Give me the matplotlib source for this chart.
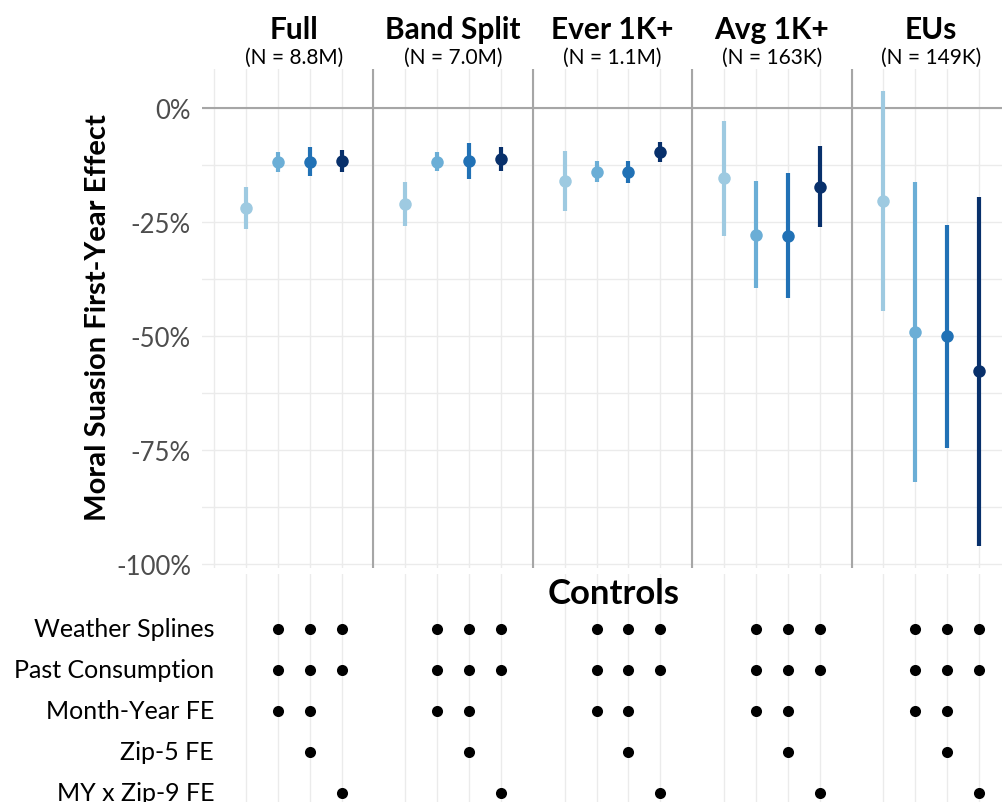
import numpy as np
import matplotlib as mpl
mpl.use('Agg')
import matplotlib.pyplot as plt

plt.rcParams['font.family'] = ['Lato', 'DejaVu Sans']

# estimates in percent, one row per sample, one column per model
panels = ['Full', 'Band Split', 'Ever 1K+', 'Avg 1K+', 'EUs']
sample_sizes = ['8.8M', '7.0M', '1.1M', '163K', '149K']
est = [[-21.9, -11.8, -11.8, -11.6],
       [-21.0, -11.8, -11.6, -11.2],
       [-16.0, -14.0, -14.0, -9.6],
       [-15.4, -27.8, -28.1, -17.3],
       [-20.4, -49.1, -50.0, -57.7]]
ci_hi = [[-17.3, -9.6, -8.6, -9.2],
         [-16.2, -9.6, -7.7, -8.6],
         [-9.4, -11.6, -11.6, -7.5],
         [-2.9, -16.0, -14.3, -8.3],
         [3.7, -16.2, -25.7, -19.5]]
ci_lo = [[-26.5, -14.0, -15.0, -14.0],
         [-25.9, -13.8, -15.6, -13.8],
         [-22.6, -16.2, -16.4, -11.8],
         [-28.1, -39.5, -41.7, -26.1],
         [-44.5, -82.0, -74.6, -96.1]]

controls = ['Weather Splines', 'Past Consumption', 'Month-Year FE', 'Zip-5 FE', 'MY x Zip-9 FE']
control_used = [[0, 1, 1, 1],
                [0, 1, 1, 1],
                [0, 1, 1, 0],
                [0, 0, 1, 0],
                [0, 0, 0, 1]]

colors = ['#9ecae1', '#6baed6', '#2171b5', '#08306b']
yticks = [0, -25, -50, -75, -100]
grid_c = '#ebebeb'
sep_c = '#a6a6a6'

W, H = 1002, 803
fig = plt.figure(figsize=(W / 100, H / 100), dpi=100)

# main coefficient panel
ax = fig.add_axes([202 / W, 1 - 569 / H, 800 / W, 499 / H])
ax.set_xlim(-0.38, 24.72)
ax.set_ylim(-100.9, 8.55)
for v in np.arange(-100, 8.6, 12.5):
    ax.axhline(v, color=grid_c, lw=1, zorder=0)
for v in range(0, 25):
    ax.axvline(v, color=grid_c, lw=1, zorder=0)
ax.axhline(0, color=sep_c, lw=1.5, zorder=1)
for p in range(1, len(panels)):
    ax.axvline(p * 5, color=sep_c, lw=1.5, zorder=1)

title_tr = mpl.transforms.blended_transform_factory(ax.transData, fig.transFigure)
for p in range(len(panels)):
    for m in range(4):
        x = p * 5 + m + 1
        ax.plot([x, x], [ci_lo[p][m], ci_hi[p][m]], color=colors[m], lw=3,
                solid_capstyle='butt', zorder=3)
        ax.plot(x, est[p][m], 'o', color=colors[m], ms=9, mec='none', zorder=4)
    cx = p * 5 + 2.5
    ax.text(cx, 1 - 30 / H, panels[p], transform=title_tr,
            ha='center', va='center', fontsize=21.5, fontweight='bold')
    ax.text(cx, 1 - 58 / H, '(N = %s)' % sample_sizes[p], transform=title_tr,
            ha='center', va='center', fontsize=15)

ax.set_yticks(yticks)
ax.set_yticklabels(['%d%%' % v for v in yticks], fontsize=18.5, color='#4d4d4d')
ax.tick_params(axis='y', length=0, pad=8)
ax.set_xticks([])
for s in ax.spines.values():
    s.set_visible(False)

fig.text(98 / W, 1 - 318 / H, 'Moral Suasion First-Year Effect', rotation=90,
         ha='center', va='center', fontsize=21, fontweight='bold')

# controls table
ax2 = fig.add_axes([202 / W, 0, 800 / W, 228 / H])
ax2.set_xlim(-0.38, 24.72)
ax2.set_ylim(4.22, -1.34)
for p in range(len(panels)):
    for m in range(4):
        ax2.axvline(p * 5 + m + 1, color=grid_c, lw=1, zorder=0)
for r, name in enumerate(controls):
    ax2.text(0, r, name, ha='right', va='center', fontsize=18)
    for p in range(len(panels)):
        for m in range(4):
            if control_used[r][m]:
                ax2.plot(p * 5 + m + 1, r, 'o', color='black', ms=8, mec='none',
                         clip_on=False, zorder=3)
ax2.text(0.515, -0.88, 'Controls', transform=ax2.get_yaxis_transform(),
         ha='center', va='center', fontsize=25, fontweight='bold')
ax2.axis('off')

plt.savefig('out.png', dpi=100)
